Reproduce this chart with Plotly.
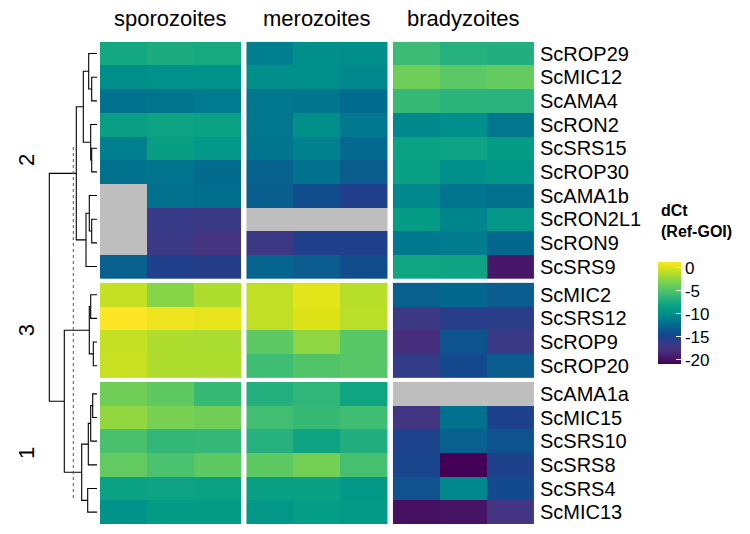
import colorsys
import numpy as np
import plotly.graph_objects as go

# genes in each row slice (top to bottom)
genes_2 = ["ScROP29", "ScMIC12", "ScAMA4", "ScRON2", "ScSRS15", "ScROP30",
           "ScAMA1b", "ScRON2L1", "ScRON9", "ScSRS9"]
genes_3 = ["ScMIC2", "ScSRS12", "ScROP9", "ScROP20"]
genes_1 = ["ScAMA1a", "ScMIC15", "ScSRS10", "ScSRS8", "ScSRS4", "ScMIC13"]
slice_labels = ["2", "3", "1"]
stages = ["sporozoites", "merozoites", "bradyzoites"]

# dCt values, 3 replicates per stage (None = NA)
spor = [
    [-7.6, -7.3, -7.5], [-10.0, -9.7, -9.8], [-11.8, -11.6, -11.3],
    [-8.4, -8.0, -8.2], [-10.9, -8.5, -9.1], [-11.8, -11.6, -12.3],
    [None, -11.9, -12.1], [None, -16.5, -16.6], [None, -16.7, -17.6],
    [-13.0, -15.3, -15.5],
    [-0.7, -2.7, -1.4], [1.3, 0.8, 0.5], [-0.7, -1.4, -1.5], [-0.6, -1.4, -1.4],
    [-3.5, -4.2, -6.0], [-2.3, -3.2, -3.5], [-5.2, -6.2, -6.1],
    [-4.1, -5.1, -4.3], [-8.2, -8.1, -8.2], [-9.6, -8.8, -8.8],
]
mero = [
    [-11.0, -9.9, -10.0], [-9.9, -9.9, -10.4], [-11.5, -11.7, -12.2],
    [-11.5, -10.0, -11.4], [-11.6, -10.8, -12.4], [-12.8, -11.9, -13.1],
    [-13.1, -14.2, -15.4], [None, None, None], [-16.9, -15.4, -15.3],
    [-12.7, -13.2, -14.2],
    [-0.8, 0.4, -1.1], [-0.8, 0.2, -1.0], [-4.3, -2.4, -4.5], [-5.6, -4.8, -4.6],
    [-6.9, -6.3, -7.9], [-5.5, -6.0, -5.6], [-6.8, -8.0, -7.0],
    [-4.3, -3.4, -5.3], [-8.3, -8.3, -9.1], [-9.2, -8.6, -8.9],
]
brady = [
    [-5.8, -6.8, -7.0], [-3.6, -4.4, -4.0], [-6.0, -6.6, -6.7],
    [-10.4, -9.9, -11.5], [-8.2, -8.0, -8.7], [-8.3, -9.9, -9.3],
    [-10.4, -11.7, -11.9], [-8.7, -10.6, -9.2], [-11.4, -11.2, -12.5],
    [-7.9, -8.0, -19.6],
    [-13.0, -12.5, -13.2], [-16.8, -15.7, -15.8], [-18.0, -13.8, -16.6],
    [-16.2, -14.5, -13.2],
    [None, None, None], [-17.3, -11.8, -15.1], [-15.0, -13.0, -13.8],
    [-14.8, -20.9, -15.1], [-13.9, -10.4, -14.4], [-19.9, -19.8, -17.4],
]

# row dendrogram: merges (left, right, height)
merge_id = ["n1", "n2", "n3", "n4", "n5", "n6", "n7", "n8", "n9",
            "m1", "m2", "m3", "k1", "k2", "k3", "k4", "k5", "g31", "root"]
merge_a = ["ScMIC12", "ScROP29", "ScSRS15", "ScRON2", "n2", "ScRON2L1", "ScAMA1b", "n7", "n5",
           "ScMIC2", "ScROP9", "m1", "ScAMA1a", "k1", "k2", "ScSRS4", "k3", "m3", "n9"]
merge_b = ["ScAMA4", "n1", "ScROP30", "n3", "n4", "ScRON9", "n6", "ScSRS9", "n8",
           "ScSRS12", "ScROP20", "m2", "ScMIC15", "ScSRS10", "ScSRS8", "ScMIC13", "k4", "k5", "g31"]
merge_h = [5.3, 8.3, 5.3, 6.3, 13.7, 5.3, 7.7, 11.0, 20.7,
           6.3, 3.7, 7.7, 4.3, 6.3, 8.7, 9.3, 15.3, 32.7, 47.7]
cut_height = 23.7

cb_ticks = [0, -5, -10, -15, -20]

# viridis, a bit punchier in the blue/teal part like the original render
vir = ["#440154", "#471365", "#482475", "#463480", "#414487", "#3B528B", "#355F8D",
       "#2F6C8E", "#2A788E", "#25848E", "#21918C", "#1E9C89", "#22A884", "#2FB47C",
       "#44BF70", "#5EC962", "#7AD151", "#9BD93C", "#BDDF26", "#DFE318", "#FDE725"]


def boost(t):
    if t <= 0.17:
        return 1.0
    if t < 0.27:
        return 1.0 + 0.4 * (t - 0.17) / 0.1
    if t <= 0.45:
        return 1.4
    if t < 0.65:
        return 1.4 - 0.4 * (t - 0.45) / 0.2
    return 1.0


cscale = []
for i, hx in enumerate(vir):
    t = i / (len(vir) - 1)
    r, g, b = (int(hx[k:k + 2], 16) / 255 for k in (1, 3, 5))
    hh, ss, vv = colorsys.rgb_to_hsv(r, g, b)
    r, g, b = colorsys.hsv_to_rgb(hh, min(1.0, ss * boost(t)), vv)
    cscale.append([t, "rgb(%d,%d,%d)" % (r * 255, g * 255, b * 255)])

W, H = 750, 534
gx, gy = 0.115, 0.19
font = "Arial, Liberation Sans, sans-serif"

slices = [genes_2, genes_3, genes_1]
mats = [np.array(m, dtype=float) for m in (spor, mero, brady)]

fig = go.Figure()

# row centres
row_y = []
start = 0
offs = []
for s, g in enumerate(slices):
    off = start + s * gy
    offs.append(off)
    row_y.append([off + i + 0.5 for i in range(len(g))])
    start += len(g)
all_genes = genes_2 + genes_3 + genes_1
all_y = [y for ys in row_y for y in ys]

r0 = 0
for s, g in enumerate(slices):
    n = len(g)
    for c, m in enumerate(mats):
        sub = m[r0:r0 + n]
        xs = [c * (3 + gx) + j + 0.5 for j in range(3)]
        na = np.where(np.isnan(sub), 1.0, np.nan)
        if np.any(np.isnan(sub)):
            fig.add_trace(go.Heatmap(
                x=xs, y=row_y[s], z=na, showscale=False, hoverinfo="skip",
                colorscale=[[0, "#bebebe"], [1, "#bebebe"]], zmin=0, zmax=1))
        fig.add_trace(go.Heatmap(x=xs, y=row_y[s], z=sub, coloraxis="coloraxis"))
    r0 += n

# dendrogram lines
pos = {gname: (0.0, y) for gname, y in zip(all_genes, all_y)}
lx, ly = [], []
for nid, a, b, h in zip(merge_id, merge_a, merge_b, merge_h):
    ha, ya = pos[a]
    hb, yb = pos[b]
    lx += [ha, h, h, hb, None]
    ly += [ya, ya, yb, yb, None]
    pos[nid] = (h, (ya + yb) / 2)
fig.add_trace(go.Scatter(x=lx, y=ly, mode="lines", xaxis="x2", yaxis="y",
                         line=dict(color="black", width=1.1), hoverinfo="skip",
                         showlegend=False))
fig.add_trace(go.Scatter(x=[cut_height, cut_height], y=[4.45, 19.3], mode="lines",
                         xaxis="x2", yaxis="y", hoverinfo="skip", showlegend=False,
                         line=dict(color="#555555", width=1, dash="dot")))

annos = []
for c, st in enumerate(stages):
    annos.append(dict(x=c * (3 + gx) + 1.5, xref="x", y=(H - 19) / H, yref="paper",
                      text=st, showarrow=False, yanchor="middle",
                      font=dict(family=font, size=22, color="black")))
for s, lab in enumerate(slice_labels):
    annos.append(dict(x=26 / W, xref="paper", y=offs[s] + len(slices[s]) / 2, yref="y",
                      text=lab, showarrow=False, textangle=-90, xanchor="center",
                      yanchor="middle", font=dict(family=font, size=22, color="black")))
annos.append(dict(x=659 / W, xref="paper", y=(H - 221) / H, yref="paper",
                  text="<b>dCt<br>(Ref-GOI)</b>", showarrow=False, xanchor="left",
                  align="left", font=dict(family=font, size=16, color="black")))

fig.update_layout(
    width=W, height=H, margin=dict(l=0, r=0, t=0, b=0),
    paper_bgcolor="white", plot_bgcolor="white",
    annotations=annos,
    xaxis=dict(domain=[100 / W, 534 / W], range=[0, 9 + 2 * gx], showticklabels=False,
               showgrid=False, zeroline=False, ticks="", automargin=False),
    xaxis2=dict(domain=[37 / W, 97 / W], range=[60, 0], showticklabels=False,
                showgrid=False, zeroline=False, anchor="y", automargin=False),
    yaxis=dict(domain=[10 / H, (H - 41.7) / H], range=[20 + 2 * gy, 0], side="right",
               tickvals=all_y, ticktext=all_genes, ticks="", showgrid=False,
               zeroline=False, ticklabelstandoff=5, automargin=False,
               tickfont=dict(family=font, size=20, color="black")),
    coloraxis=dict(
        colorscale=cscale, cmin=-20.9, cmax=1.3,
        colorbar=dict(x=658 / W, xanchor="left", y=(H - 313) / H, yanchor="middle",
                      len=102, lenmode="pixels", thickness=23, thicknessmode="pixels",
                      xpad=0, ypad=0, outlinewidth=0,
                      tickvals=cb_ticks, ticktext=[str(t) for t in cb_ticks],
                      ticks="inside", tickcolor="white", ticklen=5,
                      tickfont=dict(family=font, size=17, color="black")),
    ),
)

fig.write_html("out.html", config={"displayModeBar": False},
               post_script="document.body.style.margin='0px';")
